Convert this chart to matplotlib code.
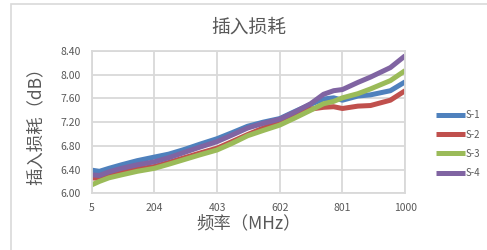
import matplotlib
matplotlib.use('Agg')
import matplotlib.pyplot as plt
from matplotlib.patches import Rectangle

plt.rcParams['font.family'] = ['Noto Sans CJK SC', 'DejaVu Sans']

freq = [5, 30, 60, 100, 150, 204, 250, 300, 350, 403, 450, 500, 550, 602,
        650, 700, 741, 773, 801, 850, 890, 953, 1000]
s1 = [6.39, 6.37, 6.42, 6.48, 6.55, 6.61, 6.66, 6.74, 6.83, 6.92, 7.02, 7.13, 7.20, 7.26,
      7.38, 7.50, 7.59, 7.61, 7.57, 7.64, 7.66, 7.73, 7.88]
s2 = [6.26, 6.25, 6.31, 6.36, 6.41, 6.45, 6.52, 6.60, 6.68, 6.76, 6.87, 6.99, 7.10, 7.20,
      7.31, 7.42, 7.45, 7.46, 7.43, 7.47, 7.48, 7.57, 7.73]
s3 = [6.14, 6.20, 6.26, 6.31, 6.37, 6.42, 6.49, 6.57, 6.65, 6.73, 6.84, 6.97, 7.06, 7.15,
      7.27, 7.40, 7.51, 7.55, 7.61, 7.68, 7.76, 7.90, 8.07]
s4 = [6.31, 6.30, 6.36, 6.42, 6.48, 6.53, 6.60, 6.69, 6.78, 6.87, 6.98, 7.10, 7.18, 7.25,
      7.37, 7.51, 7.67, 7.73, 7.75, 7.87, 7.96, 8.12, 8.32]
names = ['S-1', 'S-2', 'S-3', 'S-4']
colors = ['#4F81BD', '#C0504D', '#9BBB59', '#8064A2']

xticks = [5, 204, 403, 602, 801, 1000]
yticks = [6.00, 6.40, 6.80, 7.20, 7.60, 8.00, 8.40]
gray = '#595959'

fig = plt.figure(figsize=(4.87, 2.5), dpi=100)
fig.patches.append(Rectangle((11 / 487, -0.1), 1.0, 1.084, transform=fig.transFigure,
                             fill=False, edgecolor='#d9d9d9', linewidth=1.2))
ax = fig.add_axes([0.188, 0.227, 0.644, 0.569])

for ys, n, c in zip([s1, s2, s3, s4], names, colors):
    ax.plot(freq, ys, color=c, lw=3.6, label=n, solid_capstyle='butt')

ax.set_xlim(5, 1000)
ax.set_ylim(6.0, 8.4)
ax.set_xticks(xticks)
ax.set_yticks(yticks)
ax.set_yticklabels(['%.2f' % v for v in yticks])
ax.grid(True, color='#d9d9d9', lw=1.3)
ax.set_axisbelow(True)
for sp in ax.spines.values():
    sp.set_color('#d9d9d9')
    sp.set_linewidth(1.3)
ax.tick_params(length=0, labelsize=7.5, colors=gray, pad=8)
ax.tick_params(axis='x', pad=7)

ax.set_title('插入损耗', fontsize=13.5, color=gray, pad=13)
ax.set_xlabel('频率（MHz）', fontsize=12.5, color=gray, labelpad=1)
ax.set_ylabel('插入损耗（dB）', fontsize=12.5, color=gray, labelpad=2)
ax.yaxis.set_label_coords(-0.15, 0.5)

leg = ax.legend(loc='center left', bbox_to_anchor=(1.085, 0.345), frameon=False,
                fontsize=7, handlelength=3.0, handletextpad=0.05, labelspacing=0.95,
                labelcolor=gray, borderaxespad=0.0)

fig.savefig('out.png', dpi=100)
